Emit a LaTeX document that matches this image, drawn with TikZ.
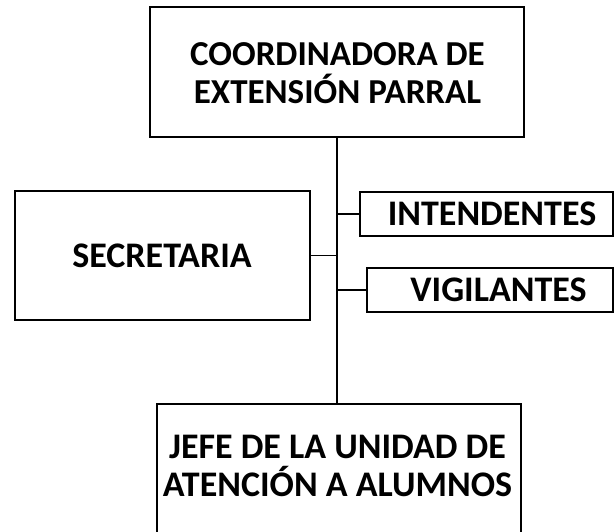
\documentclass[tikz,border=0pt]{standalone}
\usepackage{fontspec}
\setmainfont{Carlito}
\usepackage{tikz}
\tikzset{
Cadre/.style={
 draw=black, 
 line width=1.6pt, 
 fill=white, 
 inner sep=0pt
 },
Texte/.style={
 inner sep=0pt, 
 align=center, 
 font=\fontsize{#1}{38}\selectfont\bfseries
 },
Texte/.default={36},
Trait/.style={
 draw=black, 
 line width=1.3pt
 }
}
\begin{document}
\begin{tikzpicture}[x=1pt,y=-1pt]
\useasboundingbox (0,0) rectangle (615,531);
\node[Cadre,minimum width=374pt,minimum height=130pt] (coord) at (337,72) {};
\node[Cadre,minimum width=295pt,minimum height=129pt] (secr) at (162.5,255.5) {};
\node[Cadre,minimum width=253pt,minimum height=44pt] (inten) at (486.5,214) {};
\node[Cadre,minimum width=246pt,minimum height=44pt] (vigil) at (490,290) {};
\node[Cadre,minimum width=364pt,minimum height=150pt,anchor=north] (jefe) at (339,403) {};
\node[Texte=35] (coordtxt) at (337.5,73) {COORDINADORA DE\\EXTENSIÓN PARRAL};
\node[Texte] (secrtxt) at (162,255.5) {SECRETARIA};
\node[Texte] (intentxt) at (492,214) {INTENDENTES};
\node[Texte] (vigiltxt) at (498.5,290) {VIGILANTES};
\node[Texte] (jefetxt) at (337.5,466) {JEFE DE LA UNIDAD DE\\ATENCIÓN A ALUMNOS};
\draw[Trait] (coord.south) -- (coord.south |- jefe.north);
\draw[Trait] (secr.east) -- (secr.east -| coord.south);
\draw[Trait] (coord.south |- inten.west) -- (inten.west);
\draw[Trait] (coord.south |- vigil.west) -- (vigil.west);
\end{tikzpicture}
\end{document}
